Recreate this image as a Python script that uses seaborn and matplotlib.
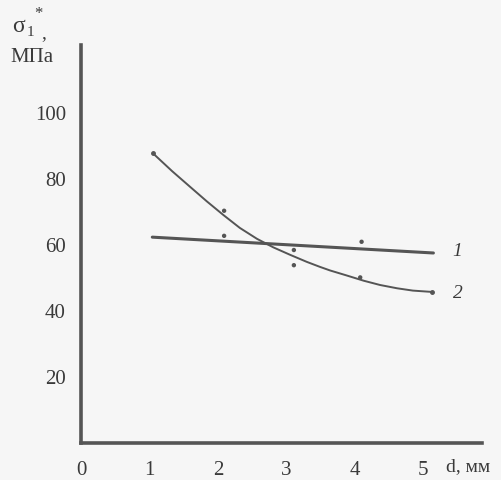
import matplotlib
matplotlib.use("Agg")
import matplotlib.pyplot as plt
import seaborn as sns
import pandas as pd

# --- data ---
line1_d = [1.04, 5.15]
line1_v = [62.4, 57.6]

curve2_d = [1.05, 1.33, 1.59, 1.84, 2.08, 2.32, 2.57, 2.81, 3.06, 3.30,
            3.49, 3.64, 3.88, 4.13, 4.37, 4.62, 4.85, 5.13]
curve2_v = [87.8, 82.4, 77.7, 73.2, 69.1, 65.2, 61.9, 59.3, 57.0, 54.9,
            53.4, 52.3, 50.8, 49.2, 47.9, 46.9, 46.2, 45.8]

pts_d = [2.09, 2.09, 3.11, 3.11, 4.10, 4.08]
pts_v = [70.4, 62.8, 58.5, 53.9, 61.0, 50.2]

x_ticks = [0, 1, 2, 3, 4, 5]
y_ticks = [20, 40, 60, 80, 100]

sns.set_theme(style="white")
plt.rcParams['font.family'] = ['Liberation Serif', 'DejaVu Serif']

ink = '#555555'
txt = '#3a3a3a'
bg = '#f6f6f6'

fig = plt.figure(figsize=(5.01, 4.8), dpi=100, facecolor=bg)
ax = fig.add_axes([0.162, 0.077, 0.800, 0.829], facecolor=bg)

df1 = pd.DataFrame({'d': line1_d, 'v': line1_v})
df2 = pd.DataFrame({'d': curve2_d, 'v': curve2_v})
dfp = pd.DataFrame({'d': pts_d, 'v': pts_v})

sns.lineplot(data=df1, x='d', y='v', ax=ax, color=ink, linewidth=2.2, sort=True)
sns.lineplot(data=df2, x='d', y='v', ax=ax, color=ink, linewidth=1.4, sort=True)
sns.scatterplot(data=dfp, x='d', y='v', ax=ax, color=ink, s=10, edgecolor='none')
ax.plot([curve2_d[0], curve2_d[-1]], [curve2_v[0], curve2_v[-1]], 'o', ms=2.5, color=ink)

ax.set_xlim(0, 5.86)
ax.set_ylim(0, 120.6)
ax.set_xticks(x_ticks)
ax.set_xticklabels([str(t) for t in x_ticks])
ax.set_yticks(y_ticks)
ax.set_yticklabels([str(t) for t in y_ticks])
ax.set_xlabel('')
ax.set_ylabel('')

for s in ['top', 'right']:
    ax.spines[s].set_visible(False)
for s in ['left', 'bottom']:
    ax.spines[s].set_color(ink)
    ax.spines[s].set_linewidth(2.6)

ax.tick_params(axis='both', direction='in', length=3, width=1.0, color=ink,
               labelsize=15, labelcolor=txt)
ax.tick_params(axis='x', pad=13)
ax.tick_params(axis='y', pad=11)

# curve labels
ax.text(5.43, 58.0, '1', fontsize=14, style='italic', color=txt, va='center', ha='left')
ax.text(5.43, 45.2, '2', fontsize=14, style='italic', color=txt, va='center', ha='left')

# x axis label
fig.text(446 / 501, 1 - 467 / 480, 'd, мм', fontsize=14, color=txt, ha='left', va='center')

# y axis label
fig.text(12 / 501, 1 - 27 / 480, 'σ', fontsize=17, color=txt, ha='left', va='center')
fig.text(27 / 501, 1 - 33 / 480, '1', fontsize=11, color=txt, ha='left', va='center')
fig.text(34 / 501, 1 - 14 / 480, '*', fontsize=12, color=txt, ha='left', va='center')
fig.text(41 / 501, 1 - 34 / 480, ',', fontsize=14, color=txt, ha='left', va='center')
fig.text(10 / 501, 1 - 57 / 480, 'МПа', fontsize=15, color=txt, ha='left', va='center')

fig.savefig('out.png', dpi=100, facecolor=bg)
